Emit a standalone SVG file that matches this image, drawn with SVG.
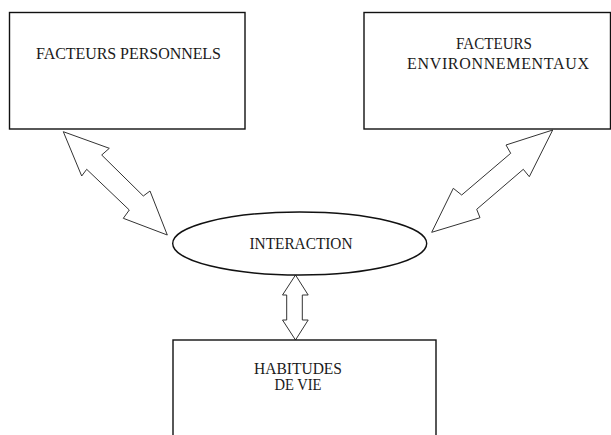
<svg xmlns="http://www.w3.org/2000/svg" width="611" height="435" viewBox="0 0 611 435">
<style>
.box{fill:#fff;stroke:#111;stroke-width:1.4}
.arr{fill:#fff;stroke:#333;stroke-width:1;stroke-linejoin:miter}
.t{font-family:"Liberation Serif","Times New Roman",serif;font-size:16px;fill:#1a1a1a}
</style>
<rect width="611" height="435" fill="#fff"/>
<g id="connectors">
<polygon class="arr" points="63.3,131.7 109.3,148.3 101.7,155 143.3,196 150,191 167.3,235 123.3,218.3 129.3,210 86.7,169.3 81.7,176"/>
<polygon class="arr" points="552.7,130 529.3,176.7 523.3,169.3 476.7,209.3 480,217.7 431.7,232.3 453.3,188.3 461.7,195 510.7,153.3 506,145"/>
<polygon class="arr" points="295.5,275 308.2,295 302.3,295 302.3,320 308.2,320 295.5,340 282.5,320 286.7,320 286.7,295 282.5,295"/>
</g>
<g id="facteurs-personnels">
<rect class="box" x="9.5" y="12.5" width="235.5" height="116.5"/>
<text class="t" x="36" y="58.5" textLength="185" lengthAdjust="spacing">FACTEURS PERSONNELS</text>
</g>
<g id="facteurs-environnementaux">
<rect class="box" x="364" y="12.5" width="246.5" height="116.5"/>
<text class="t" x="456" y="48.5" textLength="76" lengthAdjust="spacingAndGlyphs">FACTEURS</text>
<text class="t" x="407" y="68.5" textLength="182" lengthAdjust="spacing">ENVIRONNEMENTAUX</text>
</g>
<g id="interaction">
<ellipse class="box" cx="299.7" cy="243.5" rx="127" ry="31.5"/>
<text class="t" x="249.5" y="249" textLength="103" lengthAdjust="spacingAndGlyphs">INTERACTION</text>
</g>
<g id="habitudes-de-vie">
<rect class="box" x="173" y="340" width="263" height="120"/>
<text class="t" x="254" y="374" textLength="88" lengthAdjust="spacingAndGlyphs">HABITUDES</text>
<text class="t" x="274.5" y="389.5" textLength="47" lengthAdjust="spacingAndGlyphs">DE VIE</text>
</g>
</svg>
